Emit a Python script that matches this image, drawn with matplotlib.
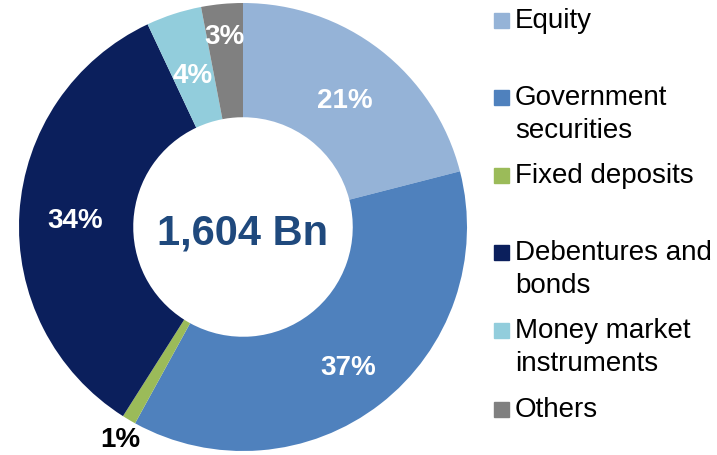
import numpy as np
import matplotlib.pyplot as plt
from matplotlib.patches import Rectangle

plt.rcParams['font.family'] = ['Liberation Sans', 'DejaVu Sans']

# Portfolio mix data
categories = ['Equity', 'Government\nsecurities', 'Fixed deposits',
              'Debentures and\nbonds', 'Money market\ninstruments', 'Others']
shares = [21, 37, 1, 34, 4, 3]
pct_labels = ['21%', '37%', '1%', '34%', '4%', '3%']
colors = ['#95B3D7', '#4F81BD', '#9BBB59', '#0B1F5C', '#92CDDC', '#808080']
total_label = '1,604 Bn'

W, H = 717, 455
fig = plt.figure(figsize=(W / 100, H / 100), dpi=100)

# donut axes: centre (243, 227), radius 224 px
cx, cy, r = 243, 227, 224
ax = fig.add_axes([(cx - r) / W, (H - cy - r) / H, 2 * r / W, 2 * r / H])
wedges, _ = ax.pie(shares, colors=colors, startangle=90, counterclock=False,
                   radius=1, wedgeprops=dict(width=0.51, linewidth=0))
ax.set_xlim(-1, 1)
ax.set_ylim(-1, 1)
ax.set_aspect('equal')
ax.axis('off')

# label distances from the centre (fraction of radius)
label_dist = [0.74, 0.77, 1.08, 0.75, 0.73, 0.87]
for w, lab, d in zip(wedges, pct_labels, label_dist):
    ang = np.deg2rad((w.theta1 + w.theta2) / 2)
    col = 'black' if d > 1 else 'white'
    ax.text(d * np.cos(ang), d * np.sin(ang) - 0.02, lab, ha='center', va='center',
            fontsize=20, fontweight='bold', color=col)

ax.text(0, -0.03, total_label, ha='center', va='center', fontsize=30,
        fontweight='bold', color='#1F497D')

# manual legend (uneven spacing as in the original), baselines in px
legend_base = [28, 105, 183, 260, 338, 417]
for lab, col, y in zip(categories, colors, legend_base):
    fig.patches.append(Rectangle((494 / W, 1 - y / H), 15 / W, 15 / H,
                                 transform=fig.transFigure, color=col))
    for i, line in enumerate(lab.split('\n')):
        fig.text(515 / W, 1 - (y + 33 * i) / H, line, ha='left', va='baseline',
                 fontsize=20, color='black')

plt.savefig('out.png', dpi=100)
